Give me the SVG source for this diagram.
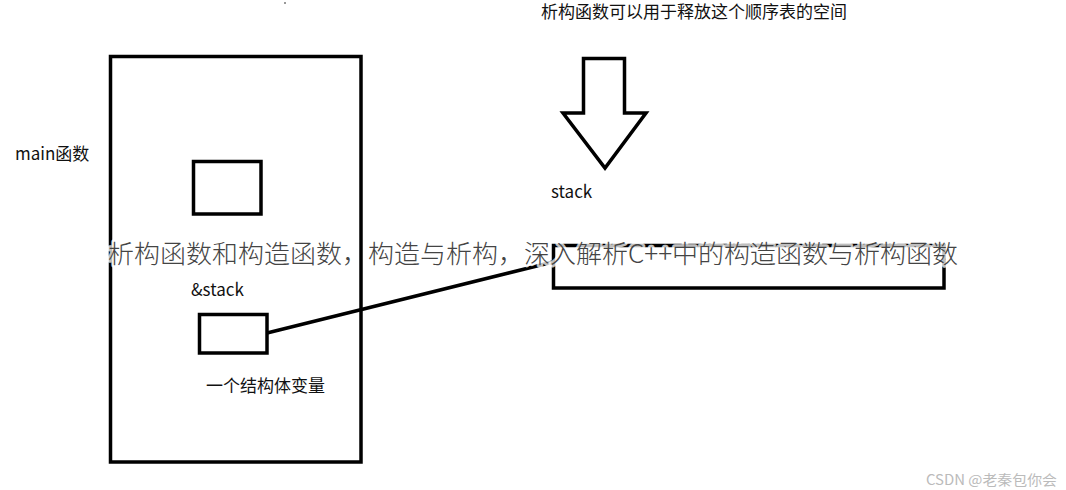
<svg xmlns="http://www.w3.org/2000/svg" width="1066" height="490" viewBox="0 0 1066 490">
<style>
.box{fill:none;stroke:#000;stroke-width:3.5}
.t{font-family:"Noto Sans CJK SC","Noto Sans",sans-serif;fill:#111;font-size:17px}
.ov{font-family:"Noto Sans CJK SC",sans-serif;font-weight:300;font-size:25.5px;fill:#444;stroke:#fff;stroke-width:5;stroke-linejoin:round;paint-order:stroke;stroke-opacity:0.75}
.wm{font-family:"Noto Sans CJK SC","Liberation Sans",sans-serif;font-size:14px;fill:#bbb}
</style>
<rect width="1066" height="490" fill="#fff"/>
<rect x="284" y="2" width="2" height="2" fill="#999"/>
<g id="main-frame"><rect class="box" x="110.5" y="56.5" width="250.5" height="405.5"/></g>
<g id="main-label"><text class="t" x="15" y="160">main函数</text></g>
<g id="box1"><rect class="box" x="193.5" y="161.5" width="67.5" height="52.5"/></g>
<g id="box2"><rect class="box" x="199.5" y="314.5" width="67.5" height="38.5"/>
<text class="t" x="191" y="296">&amp;stack</text>
<text class="t" x="206" y="392">一个结构体变量</text></g>
<g id="stack"><rect class="box" x="553.5" y="245.5" width="390.5" height="42.5"/>
<text class="t" x="551" y="198" font-size="16.5">stack</text></g>
<g id="arrow"><path d="M583.5,58.5 H624.5 V113 H646 L605,168 L563,113 H583.5 Z" fill="#fff" stroke="#000" stroke-width="3.5" stroke-linejoin="miter"/>
<text class="t" x="541" y="18">析构函数可以用于释放这个顺序表的空间</text></g>
<g id="connectors"><line x1="267" y1="333" x2="553" y2="262" stroke="#000" stroke-width="3.5"/></g>
<text class="ov" x="108" y="263" textLength="850" lengthAdjust="spacingAndGlyphs">析构函数和构造函数，构造与析构，深入解析C++中的构造函数与析构函数</text>
<text class="wm" x="926" y="485" textLength="131" lengthAdjust="spacingAndGlyphs">CSDN @老秦包你会</text>
</svg>
